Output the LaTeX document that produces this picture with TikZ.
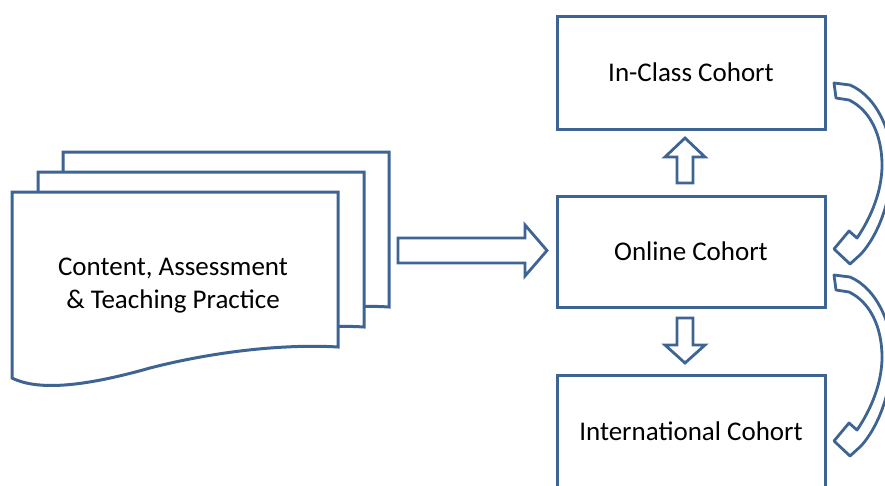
\documentclass[tikz,border=0pt]{standalone}
\usepackage{fontspec}
\setmainfont{Carlito}
\definecolor{edgeblue}{RGB}{62,100,148}
\tikzset{
  shapeline/.style={draw=edgeblue, line width=3pt, fill=white, line join=miter},
  cohort/.style={shapeline, minimum width=268pt, inner sep=0pt, font=\fontsize{27}{33}\selectfont},
  blockarrow/.style={draw=edgeblue, line width=2.8pt, fill=white, line join=miter},
}
\newcommand\docsheet{%
  (12,192) -- (338,192) -- (338,347)
  .. controls (290,344) and (220,350) .. (150,368)
  .. controls (90,385) and (40,392) .. (12,378) -- cycle}
\begin{document}
\begin{tikzpicture}[x=1pt,y=-1pt]
\useasboundingbox (0,0) rectangle (885,485);
\clip (0,0) rectangle (885,485);
% document stack
\begin{scope}[shift={(51,-40)}]
  \draw[shapeline] \docsheet;
\end{scope}
\begin{scope}[shift={(26,-20)}]
  \draw[shapeline] \docsheet;
\end{scope}
\draw[shapeline] \docsheet;
\node[align=center, font=\fontsize{27}{33}\selectfont] (doc) at (173,286)
  {Content, Assessment\\\& Teaching Practice};
\coordinate (docE) at (398,250.5);
% cohort boxes
\node[cohort, minimum height=113pt] (inclass) at (691,72.5) {In-Class Cohort};
\node[cohort, minimum height=111pt] (online) at (691,251.5) {Online Cohort};
\node[cohort, minimum height=113pt] (intl) at (691,431.5) {International Cohort};
% right block arrow
\draw[blockarrow] (docE) ++(0,-12.5) -- (525,238) -- (525,225) -- (547,250.5)
  -- (525,276) -- (525,263) -- (398,263) -- cycle;
% up block arrow
\draw[blockarrow] (677,183) -- (677,157) -- (665,157) -- (685,138) -- (705,157)
  -- (693,157) -- (693,183) -- cycle;
% down block arrow
\draw[blockarrow] (677,318) -- (693,318) -- (693,345) -- (705,345) -- (685,363)
  -- (665,345) -- (677,345) -- cycle;
% curved arrows
\foreach \dy in {0,192}{
\begin{scope}[shift={(0,\dy)}]
\draw[blockarrow, line join=round] (834,83) -- (850,85)
  .. controls (878,97) and (893,135) .. (892,165)
  .. controls (891,200) and (879,234) .. (861,254)
  -- (850,264) -- (834,249) -- (849,231) -- (857,238)
  .. controls (872,216) and (882,190) .. (882,165)
  .. controls (882,135) and (870,110) .. (849,100)
  -- (836,98) -- cycle;
\end{scope}}
\end{tikzpicture}
\end{document}
